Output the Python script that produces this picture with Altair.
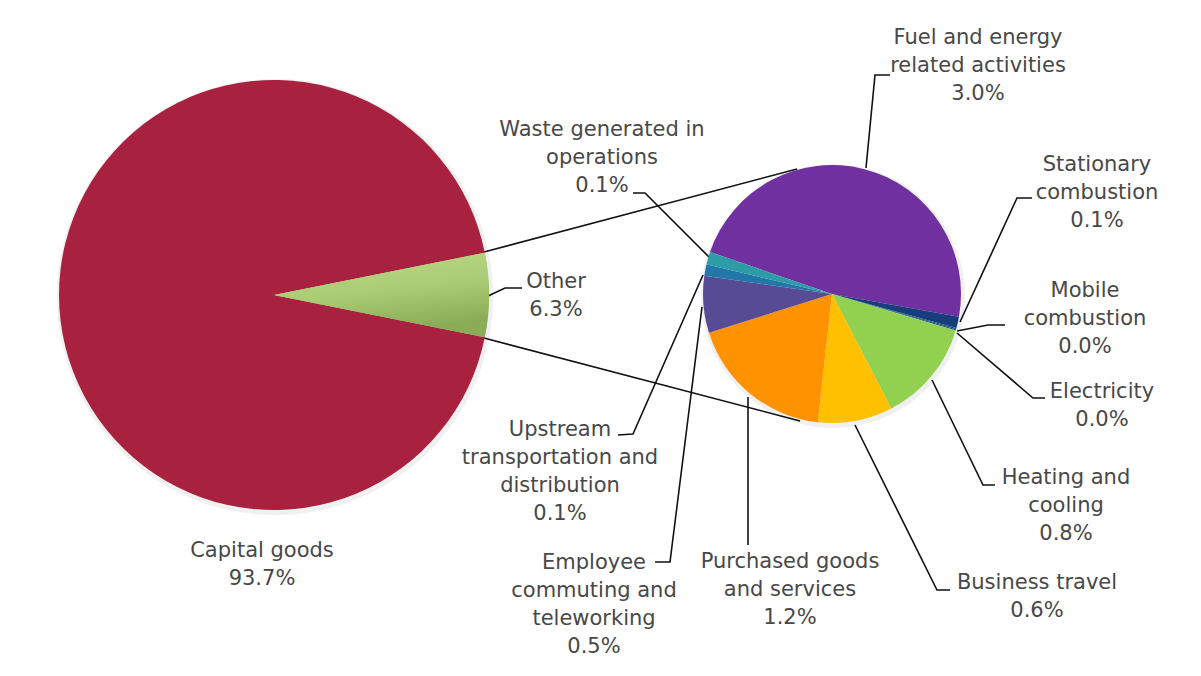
import math
import altair as alt
import pandas as pd

# ---------------- data ----------------
big_categories = ["Other", "Capital goods"]
big_values = [6.3, 93.7]
big_names = ["Other", "Capital goods"]
big_pct = ["6.3%", "93.7%"]

small_categories = [
    "Fuel and energy related activities",
    "Stationary combustion",
    "Mobile combustion",
    "Electricity",
    "Heating and cooling",
    "Business travel",
    "Purchased goods and services",
    "Employee commuting and teleworking",
    "Upstream transportation and distribution",
    "Waste generated in operations",
]
small_values = [3.0, 0.09, 0.01, 0.01, 0.81, 0.59, 1.16, 0.45, 0.09, 0.10]
small_names = [
    "Fuel and energy\nrelated activities",
    "Stationary\ncombustion",
    "Mobile\ncombustion",
    "Electricity",
    "Heating and\ncooling",
    "Business travel",
    "Purchased goods\nand services",
    "Employee\ncommuting and\nteleworking",
    "Upstream\ntransportation and\ndistribution",
    "Waste generated in\noperations",
]
small_pct = ["3.0%", "0.1%", "0.0%", "0.0%", "0.8%", "0.6%", "1.2%", "0.5%", "0.1%", "0.1%"]

# ---------------- styles ----------------
big_colors = ["#9fc46a", "#a8223f"]
small_colors = ["#7030a0", "#173e7a", "#1f4e79", "#1f5b8a", "#92d050",
                "#ffc000", "#ff9200", "#574b94", "#2277a8", "#2e9ca6"]
text_color = "#484848"
font = "DejaVu Sans"

# ---------------- layout (page pixel coordinates) ----------------
W, H = 1185, 660
big_c = (274, 295); big_r = 215
small_c = (832, 294); small_r = 129
big_start_deg = 90 - big_values[0] / sum(big_values) * 180
small_start_deg = 289

# (center x, center y of first text line)
label_pos_big = [(556, 282), (262, 551)]
label_pos_small = [(978, 38), (1097, 165), (1085, 291), (1102, 392),
                   (1066, 478), (1037, 583), (790, 562), (594, 563),
                   (560, 430), (602, 130)]

connectors = [
    [(484, 252), (797, 169)],
    [(484, 338), (800, 421)],
]
leaders = [
    [(866, 168), (875, 75), (890, 75)],          # fuel
    [(960, 322), (1017, 198), (1032, 198)],      # stationary
    [(957, 331), (988, 325), (1005, 325)],       # mobile
    [(957, 333), (1033, 398), (1045, 398)],      # electricity
    [(932, 380), (983, 485), (995, 485)],        # heating
    [(855, 425), (937, 590), (950, 590)],        # business
    [(748, 397), (748, 545)],                    # purchased
    [(702, 307), (670, 562), (655, 562)],        # employee
    [(703, 275), (633, 434), (618, 435)],        # upstream
    [(710, 258), (645, 193), (633, 193)],        # waste
    [(486, 297), (505, 288), (522, 288)],        # other
]

# ---------------- tables ----------------
def pie_table(cats, vals, colors):
    df = pd.DataFrame({"category": cats, "value": vals, "color": colors})
    df["end"] = df["value"].cumsum()
    df["start"] = df["end"] - df["value"]
    return df

big_df = pie_table(big_categories, big_values, big_colors)
small_df = pie_table(small_categories, small_values, small_colors)

lab_rows = []
for n, p, (x, y) in zip(big_names, big_pct, label_pos_big):
    lab_rows.append({"text": n + "\n" + p, "x": x, "y": y})
for n, p, (x, y) in zip(small_names, small_pct, label_pos_small):
    lab_rows.append({"text": n + "\n" + p, "x": x, "y": y})
lab_df = pd.DataFrame(lab_rows)

line_rows = []
for i, pl in enumerate(connectors):
    for j, (x, y) in enumerate(pl):
        line_rows.append({"id": f"c{i}", "seq": j, "x": x, "y": y})
for i, pl in enumerate(leaders):
    for j, (x, y) in enumerate(pl):
        line_rows.append({"id": f"l{i}", "seq": j, "x": x, "y": y})
line_df = pd.DataFrame(line_rows)

xs = alt.Scale(domain=[8, 8 + W], nice=False, zero=False)
ys = alt.Scale(domain=[8, 8 + H], nice=False, zero=False, reverse=True)

def theta_enc(df, start_deg):
    a0 = math.radians(start_deg)
    tot = float(df["value"].sum())
    return dict(
        theta=alt.Theta("start:Q", scale=alt.Scale(domain=[0, tot], range=[a0, a0 + 2 * math.pi]), stack=None),
        theta2=alt.Theta2("end:Q"),
    )

one = pd.DataFrame({"a": [0]})

def shadow(c, r):
    return alt.Chart(one).mark_arc(radius=r + 3, theta=0, theta2=2 * math.pi,
                                   color="#000000", opacity=0.06).encode(
        x=alt.XDatum(c[0] + 1, scale=xs, axis=None),
        y=alt.YDatum(c[1] + 2, scale=ys, axis=None),
    )

lines = alt.Chart(line_df).mark_line(color="#111111", strokeWidth=1.6).encode(
    x=alt.X("x:Q", scale=xs, axis=None),
    y=alt.Y("y:Q", scale=ys, axis=None),
    detail="id:N",
    order="seq:Q",
)

big_pie = alt.Chart(big_df).mark_arc(radius=big_r).encode(
    x=alt.XDatum(big_c[0], scale=xs, axis=None),
    y=alt.YDatum(big_c[1], scale=ys, axis=None),
    color=alt.Color("color:N", scale=None),
    **theta_enc(big_df, big_start_deg),
)

grad = alt.LinearGradient(
    gradient="linear",
    stops=[alt.GradientStop(color="#bddb86", offset=0),
           alt.GradientStop(color="#aacc74", offset=0.55),
           alt.GradientStop(color="#8aac56", offset=1)],
    x1=0, x2=0.3, y1=0, y2=1,
)
other_wedge = alt.Chart(big_df).transform_filter(
    alt.datum.category == "Other"
).mark_arc(radius=big_r, fill=grad).encode(
    x=alt.XDatum(big_c[0], scale=xs, axis=None),
    y=alt.YDatum(big_c[1], scale=ys, axis=None),
    **theta_enc(big_df, big_start_deg),
)

small_pie = alt.Chart(small_df).mark_arc(radius=small_r).encode(
    x=alt.XDatum(small_c[0], scale=xs, axis=None),
    y=alt.YDatum(small_c[1], scale=ys, axis=None),
    color=alt.Color("color:N", scale=None),
    **theta_enc(small_df, small_start_deg),
)

labels = alt.Chart(lab_df).mark_text(
    font=font, fontSize=21, color=text_color, align="center", baseline="middle",
    lineBreak="\n", lineHeight=28,
).encode(
    x=alt.X("x:Q", scale=xs, axis=None),
    y=alt.Y("y:Q", scale=ys, axis=None),
    text="text:N",
)

chart = alt.layer(
    shadow(big_c, big_r), shadow(small_c, small_r), lines, big_pie, other_wedge, small_pie, labels
).resolve_scale(theta="independent").properties(
    width=W, height=H, padding=0, autosize=alt.AutoSizeParams(type="none"),
    background="white",
).configure_view(stroke=None)

chart.save("out.html", embed_options={"renderer": "svg", "actions": False})
